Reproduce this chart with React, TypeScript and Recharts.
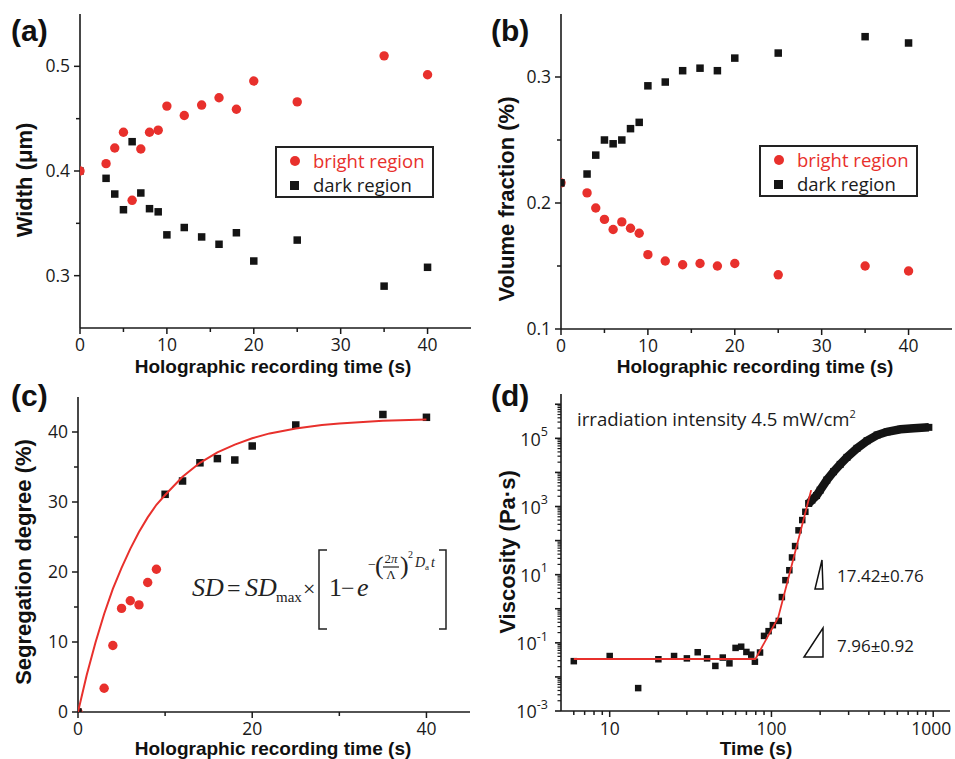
import React from 'react';
import { ScatterChart, Scatter, XAxis, YAxis, Legend, Customized } from 'recharts';

// ---------- data ----------
// (a) & (b) share the time axis
const timeAB = [0, 3, 4, 5, 6, 7, 8, 9, 10, 12, 14, 16, 18, 20, 25, 35, 40];
const widthBright = [0.4, 0.407, 0.422, 0.437, 0.372, 0.421, 0.437, 0.439, 0.462, 0.453, 0.463, 0.47, 0.459, 0.486, 0.466, 0.51, 0.492];
const widthDark = [0.4, 0.393, 0.378, 0.363, 0.428, 0.379, 0.364, 0.361, 0.339, 0.346, 0.337, 0.33, 0.341, 0.314, 0.334, 0.29, 0.308];
const volBright = [0.216, 0.208, 0.196, 0.187, 0.179, 0.185, 0.18, 0.176, 0.159, 0.154, 0.151, 0.152, 0.15, 0.152, 0.143, 0.15, 0.146];
const volDark = [0.216, 0.223, 0.238, 0.25, 0.247, 0.25, 0.259, 0.264, 0.293, 0.296, 0.305, 0.307, 0.305, 0.315, 0.319, 0.332, 0.327];

// (c)
const segTimeBright = [0, 3, 4, 5, 6, 7, 8, 9];
const segBright = [0, 3.4, 9.5, 14.8, 15.9, 15.3, 18.5, 20.4];
const segTimeDark = [0, 10, 12, 14, 16, 18, 20, 25, 35, 40];
const segDark = [0, 31.1, 33.0, 35.6, 36.2, 36.0, 38.0, 41.0, 42.5, 42.1];
const fitTimeC = [0, 1, 2, 3, 4, 5, 6, 7, 8, 9, 10, 12, 14, 16, 18, 20, 22, 25, 28, 30, 35, 40];
const fitSD = [0, 5.3, 9.9, 14.0, 17.6, 20.6, 23.3, 25.7, 27.8, 29.6, 31.0, 33.6, 35.6, 37.1, 38.2, 39.1, 39.8, 40.5, 41.0, 41.2, 41.6, 41.8];

// (d)
const viscTime = [6, 10, 15, 20, 25, 30, 35, 40, 45, 50, 55, 60, 65, 70, 75, 79, 85, 90, 96, 102, 111, 116, 122, 129, 134, 140, 147, 155, 162, 170];
const viscosity = [0.029, 0.041, 0.0047, 0.033, 0.041, 0.035, 0.053, 0.035, 0.021, 0.037, 0.025, 0.071, 0.077, 0.054, 0.045, 0.028, 0.052, 0.16, 0.22, 0.33, 0.44, 2.2, 6.9, 13.5, 32, 69, 200, 400, 700, 1230];
const viscTimeDense = [170, 178, 190, 200, 220, 242, 266, 293, 338, 390, 450, 519, 628, 759, 940];
const viscDense = [1230, 1550, 2100, 3020, 5970, 10500, 17200, 27600, 50800, 85000, 125000, 156000, 184000, 197000, 210000];
const fitTimeD = [6, 79.6, 110, 176];
const fitVisc = [0.0336, 0.0336, 0.55, 3020];

// ticks
const timeTicks = [0, 5, 10, 15, 20, 25, 30, 35, 40];
const timeMajor = [0, 10, 20, 30, 40];
const timeTicksC = [0, 10, 20, 30, 40];
const timeMajorC = [0, 20, 40];
const widthTicks = [0.3, 0.35, 0.4, 0.45, 0.5];
const widthMajor = [0.3, 0.4, 0.5];
const volTicks = [0.1, 0.15, 0.2, 0.25, 0.3];
const volMajor = [0.1, 0.2, 0.3];
const segTicks = [0, 5, 10, 15, 20, 25, 30, 35, 40];
const segMajor = [0, 10, 20, 30, 40];
const logXMajor = [10, 100, 1000];
const logXMinor = [6, 7, 8, 9, 20, 30, 40, 50, 60, 70, 80, 90, 200, 300, 400, 500, 600, 700, 800, 900];
const logYExp = [-3, -2, -1, 0, 1, 2, 3, 4, 5, 6];
const logYLabelled = [-3, -1, 1, 3, 5];
const logYMinorMult = [2, 3, 4, 5, 6, 7, 8, 9];

// ---------- style ----------
const RED = '#e8302c';
const BLACK = '#141414';
const AXIS = '#1a1a1a';
const TEXT = '#1a1a1a';
const SANS = '"Open Sans", "Noto Sans", sans-serif';
const BOLD = '"Liberation Sans", Arial, sans-serif';
const SERIF = '"Liberation Serif", "Times New Roman", serif';
const TICK_FS = 17.5;
const AXIS_LINE = { stroke: AXIS, strokeWidth: 1.6 };

const toXY = (xs: number[], ys: number[]) => xs.map((x, i) => ({ x, y: ys[i] }));
const near = (a: number, list: number[]) => list.some((m) => Math.abs(m - a) < 1e-9);

const logYTicks: number[] = [];
logYExp.forEach((e) => {
  logYTicks.push(Math.pow(10, e));
  logYMinorMult.forEach((m) => {
    const v = m * Math.pow(10, e);
    if (v < 2e6) logYTicks.push(v);
  });
});
const logXTicks = [...logXMajor, ...logXMinor].sort((a, b) => a - b);

function xTick(majors: number[], fmt: (v: number) => string = (v) => String(v)) {
  return (props: any) => {
    const { x, y, payload } = props;
    const v = payload.value;
    const major = near(v, majors);
    return (
      <g>
        <line x1={x} x2={x} y1={y} y2={y + (major ? 6 : 4)} stroke={AXIS} strokeWidth={1.5} />
        {major && (
          <text x={x} y={y + 22.5} textAnchor="middle" fontFamily={SANS} fontSize={TICK_FS} fill={TEXT}>
            {fmt(v)}
          </text>
        )}
      </g>
    );
  };
}

function yTick(majors: number[], fmt: (v: number) => string = (v) => String(v)) {
  return (props: any) => {
    const { x, y, payload } = props;
    const v = payload.value;
    const major = near(v, majors);
    return (
      <g>
        <line x1={x} x2={x - (major ? 6 : 4)} y1={y} y2={y} stroke={AXIS} strokeWidth={1.5} />
        {major && (
          <text x={x - 10} y={y} dy="0.35em" textAnchor="end" fontFamily={SANS} fontSize={TICK_FS} fill={TEXT}>
            {fmt(v)}
          </text>
        )}
      </g>
    );
  };
}

const logXTick = (props: any) => {
  const { x, y, payload } = props;
  const v = payload.value;
  const major = near(v, logXMajor);
  return (
    <g>
      <line x1={x} x2={x} y1={y} y2={y + (major ? 6 : 4)} stroke={AXIS} strokeWidth={1.5} />
      {major && (
        <text x={v === 1000 ? x - 2 : x} y={y + 23.5} textAnchor="middle" fontFamily={SANS} fontSize={TICK_FS} fill={TEXT}>
          {v}
        </text>
      )}
    </g>
  );
};

const logYTick = (props: any) => {
  const { x, y, payload } = props;
  const v = payload.value;
  const lg = Math.log10(v);
  const e = Math.round(lg);
  const major = Math.abs(lg - e) < 1e-6;
  const labelled = major && logYLabelled.includes(e);
  return (
    <g>
      <line x1={x} x2={x - (major ? 6 : 3.5)} y1={y} y2={y} stroke={AXIS} strokeWidth={major ? 1.6 : 1.2} />
      {labelled && (
        <text x={x - 13} y={y} textAnchor="end" fontFamily={SANS} fontSize={18} fill={TEXT}>
          <tspan dy="0.4em">10</tspan>
          <tspan dy="-0.75em" fontSize={12.5}>{String(e)}</tspan>
        </text>
      )}
    </g>
  );
};

const circleShape = (color: string, r: number) => (p: any) => <circle cx={p.cx} cy={p.cy} r={r} fill={color} />;
const squareShape = (color: string, s: number) => (p: any) => (
  <rect x={p.cx - s / 2} y={p.cy - s / 2} width={s} height={s} fill={color} />
);
const noShape = () => <g />;

const LegendBox = () => (
  <div
    style={{
      width: 159,
      height: 52,
      border: '2px solid #222',
      boxSizing: 'border-box',
      padding: '1px 0 0 13px',
      fontFamily: SANS,
      fontSize: 18.5,
      lineHeight: '24px',
      background: '#fff',
    }}
  >
    <div style={{ display: 'flex', alignItems: 'center', color: RED, height: 24 }}>
      <span style={{ display: 'inline-block', width: 10, height: 10, borderRadius: '50%', background: RED, marginRight: 13 }} />
      bright region
    </div>
    <div style={{ display: 'flex', alignItems: 'center', color: TEXT, height: 24 }}>
      <span style={{ display: 'inline-block', width: 9, height: 9, background: BLACK, marginRight: 14 }} />
      dark region
    </div>
  </div>
);

const frame = (xd: number[], yd: number[], log = false) => [
  <XAxis
    key="fx"
    xAxisId="top"
    orientation="top"
    type="number"
    domain={xd}
    scale={log ? 'log' : 'auto'}
    height={0}
    tick={false}
    tickLine={false}
    axisLine={AXIS_LINE}
    allowDataOverflow
  />,
  <YAxis
    key="fy"
    yAxisId="right"
    orientation="right"
    type="number"
    domain={yd}
    scale={log ? 'log' : 'auto'}
    width={0}
    tick={false}
    tickLine={false}
    axisLine={AXIS_LINE}
    allowDataOverflow
  />,
];

const PanelLetter = ({ y, t }: { y: number; t: string }) => (
  <text x={11} y={y} fontFamily={BOLD} fontWeight="bold" fontSize={30} fill="#111">
    {t}
  </text>
);
const YTitle = ({ x, y, t }: { x: number; y: number; t: string }) => (
  <text transform={`translate(${x},${y}) rotate(-90)`} textAnchor="middle" fontFamily={BOLD} fontWeight="bold" fontSize={22} fill="#111">
    {t}
  </text>
);
const XTitle = ({ x, y, t }: { x: number; y: number; t: string }) => (
  <text x={x} y={y} textAnchor="middle" fontFamily={BOLD} fontWeight="bold" fontSize={19} fill="#111">
    {t}
  </text>
);

const OverlayA = () => (
  <g>
    <PanelLetter y={41} t="(a)" />
    <YTitle x={32} y={180} t="Width (μm)" />
    <XTitle x={273} y={373} t="Holographic recording time (s)" />
  </g>
);
const OverlayB = () => (
  <g>
    <PanelLetter y={41} t="(b)" />
    <YTitle x={34} y={199} t="Volume fraction (%)" />
    <XTitle x={275} y={373} t="Holographic recording time (s)" />
  </g>
);
const OverlayC = () => (
  <g>
    <PanelLetter y={26} t="(c)" />
    <YTitle x={31} y={182} t="Segregation degree (%)" />
    <XTitle x={273} y={374.5} t="Holographic recording time (s)" />
    <g fontFamily={SERIF} fill="#222">
      <text x={192} y={216} fontSize={26} fontStyle="italic">SD</text>
      <text x={227} y={216} fontSize={24}>=</text>
      <text x={245} y={216} fontSize={26} fontStyle="italic">SD</text>
      <text x={276} y={222} fontSize={15}>max</text>
      <text x={303} y={216} fontSize={22}>×</text>
      <path d="M327 170 H319 V249 H327" fill="none" stroke="#222" strokeWidth={1.5} />
      <path d="M439 170 H446 V249 H439" fill="none" stroke="#222" strokeWidth={1.5} />
      <text x={329} y={216} fontSize={26}>1</text>
      <text x={341} y={216} fontSize={24}>−</text>
      <text x={357} y={216} fontSize={26} fontStyle="italic">e</text>
      <text x={368} y={189} fontSize={14}>−</text>
      <text x={375} y={194} fontSize={26}>(</text>
      <text x={391} y={183} fontSize={13} textAnchor="middle">2<tspan fontStyle="italic">π</tspan></text>
      <line x1={383} x2={399} y1={187} y2={187} stroke="#222" strokeWidth={1.2} />
      <text x={391} y={199} fontSize={13} textAnchor="middle">Λ</text>
      <text x={400} y={194} fontSize={26}>)</text>
      <text x={408} y={178} fontSize={10}>2</text>
      <text x={415} y={187} fontSize={14} fontStyle="italic">D</text>
      <text x={425} y={190} fontSize={9}>a</text>
      <text x={431} y={187} fontSize={14} fontStyle="italic">t</text>
    </g>
  </g>
);
const OverlayD = () => (
  <g>
    <PanelLetter y={26} t="(d)" />
    <YTitle x={35} y={172} t="Viscosity (Pa·s)" />
    <XTitle x={276} y={374.5} t="Time (s)" />
    <text x={97} y={46} fontFamily={SANS} fontSize={18.6} fill={TEXT}>
      irradiation intensity 4.5 mW/cm<tspan dy={-8} fontSize={11}>2</tspan>
    </text>
    <path d="M335 209 L343 209 L342 180 Z" fill="none" stroke="#111" strokeWidth={1.5} />
    <path d="M324 277 L343 277 L343 248 Z" fill="none" stroke="#111" strokeWidth={1.5} />
    <text x={357} y={202} fontFamily={SANS} fontSize={17} fill={TEXT}>17.42±0.76</text>
    <text x={357} y={272} fontFamily={SANS} fontSize={17} fill={TEXT}>7.96±0.92</text>
  </g>
);

const fmt1 = (v: number) => v.toFixed(1);

export default function App() {
  return (
    <div style={{ position: 'absolute', left: 0, top: 0, width: 955, height: 759, background: '#fff', overflow: 'hidden' }}>
      {/* (a) */}
      <div style={{ position: 'absolute', left: 0, top: 0, width: 480, height: 380 }}>
        <ScatterChart width={480} height={380} margin={{ top: 14, right: 9, bottom: 12, left: 20 }}>
          <XAxis type="number" dataKey="x" domain={[0, 45]} ticks={timeTicks} interval={0} tickSize={0} tickMargin={0} tickLine={false} tick={xTick(timeMajor)} axisLine={AXIS_LINE} height={40} allowDataOverflow />
          <YAxis type="number" dataKey="y" domain={[0.25, 0.55]} ticks={widthTicks} interval={0} tickSize={0} tickMargin={0} tickLine={false} tick={yTick(widthMajor, fmt1)} axisLine={AXIS_LINE} width={60} allowDataOverflow />
          {frame([0, 45], [0.25, 0.55])}
          <Scatter name="dark region" data={toXY(timeAB, widthDark)} shape={squareShape(BLACK, 7.5)} isAnimationActive={false} />
          <Scatter name="bright region" data={toXY(timeAB, widthBright)} shape={circleShape(RED, 4.7)} isAnimationActive={false} />
          <Legend layout="vertical" align="center" verticalAlign="middle" wrapperStyle={{ left: 275, top: 146, width: 159, height: 52 }} content={() => <LegendBox />} />
          <Customized component={OverlayA} />
        </ScatterChart>
      </div>
      {/* (b) */}
      <div style={{ position: 'absolute', left: 480, top: 0, width: 475, height: 380 }}>
        <ScatterChart width={475} height={380} margin={{ top: 14, right: 3, bottom: 11, left: 21 }}>
          <XAxis type="number" dataKey="x" domain={[0, 45]} ticks={timeTicks} interval={0} tickSize={0} tickMargin={0} tickLine={false} tick={xTick(timeMajor)} axisLine={AXIS_LINE} height={40} allowDataOverflow />
          <YAxis type="number" dataKey="y" domain={[0.1, 0.35]} ticks={volTicks} interval={0} tickSize={0} tickMargin={0} tickLine={false} tick={yTick(volMajor, fmt1)} axisLine={AXIS_LINE} width={60} allowDataOverflow />
          {frame([0, 45], [0.1, 0.35])}
          <Scatter name="bright region" data={toXY(timeAB, volBright)} shape={circleShape(RED, 4.7)} isAnimationActive={false} />
          <Scatter name="dark region" data={toXY(timeAB, volDark)} shape={squareShape(BLACK, 7.5)} isAnimationActive={false} />
          <Legend layout="vertical" align="center" verticalAlign="middle" wrapperStyle={{ left: 279, top: 145, width: 159, height: 52 }} content={() => <LegendBox />} />
          <Customized component={OverlayB} />
        </ScatterChart>
      </div>
      {/* (c) */}
      <div style={{ position: 'absolute', left: 0, top: 380, width: 480, height: 379 }}>
        <ScatterChart width={480} height={379} margin={{ top: 17, right: 10, bottom: 7, left: 18 }}>
          <XAxis type="number" dataKey="x" domain={[0, 45]} ticks={timeTicksC} interval={0} tickSize={0} tickMargin={0} tickLine={false} tick={xTick(timeMajorC)} axisLine={AXIS_LINE} height={40} allowDataOverflow />
          <YAxis type="number" dataKey="y" domain={[0, 45]} ticks={segTicks} interval={0} tickSize={0} tickMargin={0} tickLine={false} tick={yTick(segMajor)} axisLine={AXIS_LINE} width={60} allowDataOverflow />
          {frame([0, 45], [0, 45])}
          <Scatter name="bright region" data={toXY(segTimeBright, segBright)} shape={circleShape(RED, 4.7)} isAnimationActive={false} />
          <Scatter name="dark region" data={toXY(segTimeDark, segDark)} shape={squareShape(BLACK, 7.5)} isAnimationActive={false} />
          <Scatter name="fit" data={toXY(fitTimeC, fitSD)} shape={noShape} line={{ stroke: RED, strokeWidth: 2 }} lineType="joint" isAnimationActive={false} />
          <Customized component={OverlayC} />
        </ScatterChart>
      </div>
      {/* (d) */}
      <div style={{ position: 'absolute', left: 480, top: 380, width: 475, height: 379 }}>
        <ScatterChart width={475} height={379} margin={{ top: 14, right: 5, bottom: 8, left: 21 }}>
          <XAxis type="number" dataKey="x" scale="log" domain={[5, 1270]} ticks={logXTicks} interval={0} tickSize={0} tickMargin={0} tickLine={false} tick={logXTick} axisLine={AXIS_LINE} height={40} allowDataOverflow />
          <YAxis type="number" dataKey="y" scale="log" domain={[0.001, 2e6]} ticks={logYTicks} interval={0} tickSize={0} tickMargin={0} tickLine={false} tick={logYTick} axisLine={AXIS_LINE} width={60} allowDataOverflow />
          {frame([5, 1270], [0.001, 2e6], true)}
          <Scatter name="viscosity" data={toXY(viscTime, viscosity)} shape={squareShape(BLACK, 6.5)} isAnimationActive={false} />
          <Scatter name="viscosity (dense)" data={toXY(viscTimeDense, viscDense)} shape={squareShape(BLACK, 7)} line={{ stroke: BLACK, strokeWidth: 8.5 }} lineType="joint" isAnimationActive={false} />
          <Scatter name="fit" data={toXY(fitTimeD, fitVisc)} shape={noShape} line={{ stroke: RED, strokeWidth: 1.8 }} lineType="joint" isAnimationActive={false} />
          <Customized component={OverlayD} />
        </ScatterChart>
      </div>
    </div>
  );
}
